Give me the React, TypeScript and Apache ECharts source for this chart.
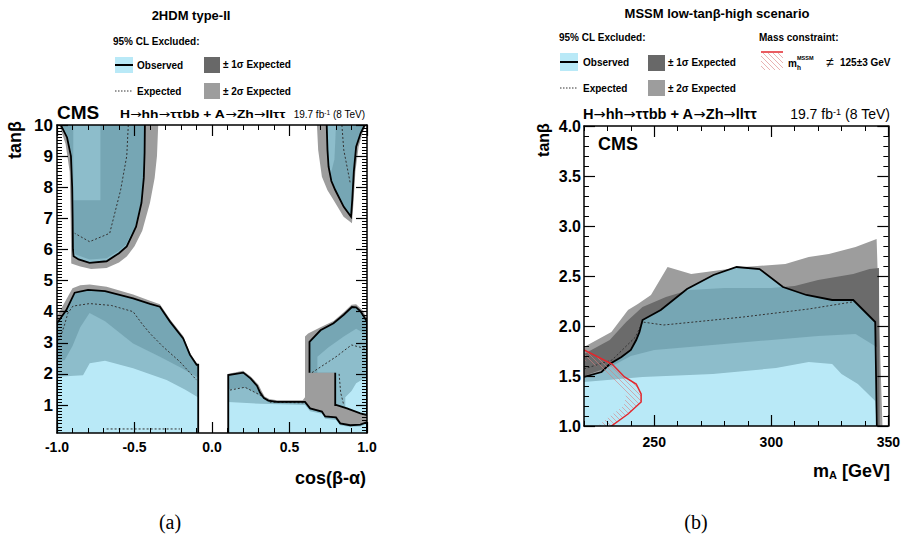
import React, { useEffect, useRef } from 'react';
import * as echarts from 'echarts';

type Pt = [number, number];

// ---------------- Panel (a): 2HDM type-II, x = cos(beta-alpha), y = tan(beta)
const cosTicks = [-1.0, -0.5, 0.0, 0.5, 1.0];
const tanbTicksA = [1, 2, 3, 4, 5, 6, 7, 8, 9, 10];

const obsTL: Pt[] = [[-0.975, 10], [-0.935, 9.6], [-0.91, 9.0], [-0.902, 8.0], [-0.899, 7.0], [-0.897, 6.0], [-0.893, 5.78], [-0.86, 5.68], [-0.79, 5.57], [-0.68, 5.62], [-0.6, 5.88], [-0.55, 6.1], [-0.49, 6.73], [-0.455, 7.5], [-0.44, 8.3], [-0.435, 9.1], [-0.433, 10]];
const obsTR: Pt[] = [[0.74, 10], [0.745, 9.2], [0.752, 8.66], [0.77, 8.2], [0.795, 7.91], [0.85, 7.37], [0.897, 7.05], [0.905, 7.6], [0.915, 8.5], [0.93, 9.3], [0.96, 9.75], [0.985, 10]];
const obsBL: Pt[] = [[-1, 0.1], [-1, 3.63], [-0.94, 4.05], [-0.886, 4.61], [-0.8, 4.7], [-0.69, 4.66], [-0.509, 4.43], [-0.4, 4.25], [-0.336, 4.16], [-0.271, 3.68], [-0.186, 3.14], [-0.142, 2.61], [-0.099, 2.29], [-0.089, 2.29], [-0.089, 0.1]];
const obsBR1: Pt[] = [[0.105, 0.1], [0.105, 1.96], [0.202, 2.04], [0.25, 1.85], [0.29, 1.62], [0.31, 1.4], [0.335, 1.22], [0.364, 1.14], [0.418, 1.1], [0.6, 1.1], [0.633, 0.89], [0.709, 0.79], [0.73, 0.63], [0.8, 0.6], [0.827, 0.41], [0.892, 0.35], [0.957, 0.37], [1.0, 0.45], [1.0, 0.1]];
const obsBR2: Pt[] = [[0.629, 2.04], [0.629, 3.03], [0.7, 3.4], [0.784, 3.63], [0.85, 3.9], [0.903, 4.15], [0.93, 4.14], [0.96, 4.0], [1.0, 3.68], [1.0, 0.68], [0.957, 0.73], [0.871, 0.89], [0.8, 1.0], [0.795, 1.0], [0.795, 2.04]];

const plus2TL: Pt[] = [[-0.985, 10], [-0.945, 9.4], [-0.918, 8.5], [-0.912, 7.0], [-0.908, 5.55], [-0.85, 5.45], [-0.78, 5.37], [-0.68, 5.4], [-0.6, 5.58], [-0.55, 5.77], [-0.5, 6.1], [-0.45, 6.6], [-0.4, 7.5], [-0.37, 8.3], [-0.355, 9.0], [-0.347, 10]];
const plus2TR: Pt[] = [[0.677, 10], [0.685, 9.2], [0.709, 8.34], [0.745, 7.9], [0.784, 7.59], [0.849, 7.05], [0.903, 6.84], [0.913, 7.5], [0.925, 8.5], [0.946, 9.3], [0.975, 9.8], [0.995, 10]];
const plus2BL: Pt[] = [[-1, 0.1], [-1, 3.85], [-0.95, 4.3], [-0.9, 4.75], [-0.85, 4.85], [-0.789, 4.87], [-0.68, 4.8], [-0.509, 4.55], [-0.4, 4.35], [-0.336, 4.24], [-0.27, 3.75], [-0.186, 3.22], [-0.142, 2.68], [-0.099, 2.34], [-0.085, 2.34], [-0.085, 0.1]];
const plus2BR: Pt[] = [[0.1, 0.1], [0.1, 2.0], [0.2, 2.1], [0.25, 1.92], [0.3, 1.65], [0.32, 1.45], [0.34, 1.27], [0.37, 1.19], [0.42, 1.15], [0.585, 1.15], [0.6, 1.25], [0.6, 3.2], [0.62, 3.3], [0.7, 3.5], [0.784, 3.7], [0.85, 3.98], [0.9, 4.22], [0.93, 4.24], [0.97, 4.05], [1.0, 3.8], [1.0, 0.1]];

const plus1TL: Pt[] = [[-0.965, 10], [-0.928, 9.6], [-0.903, 9.0], [-0.896, 8.0], [-0.894, 7.0], [-0.893, 6.0], [-0.88, 5.84], [-0.79, 5.68], [-0.68, 5.72], [-0.6, 5.96], [-0.555, 6.16], [-0.495, 6.76], [-0.46, 7.5], [-0.445, 8.3], [-0.44, 9.1], [-0.438, 10]];

const minus1TL: Pt[] = [[-0.895, 10], [-0.895, 7.58], [-0.72, 7.58], [-0.72, 10]];
const minus1TR: Pt[] = [[0.745, 10], [0.748, 9.0], [0.765, 8.4], [0.79, 8.9], [0.8, 10]];
const minus1BL: Pt[] = [[-1, 0.1], [-1, 2.38], [-0.95, 2.45], [-0.9, 2.9], [-0.85, 3.5], [-0.79, 3.96], [-0.69, 3.69], [-0.509, 2.98], [-0.336, 2.55], [-0.2, 2.2], [-0.099, 1.91], [-0.09, 1.9], [-0.09, 0.1]];
const minus1BR1: Pt[] = [[0.105, 0.1], [0.105, 1.5], [0.2, 1.57], [0.26, 1.45], [0.31, 1.3], [0.36, 1.1], [0.4, 1.06], [0.6, 1.05], [0.633, 0.85], [0.709, 0.76], [0.73, 0.6], [0.8, 0.56], [0.827, 0.38], [0.892, 0.32], [0.957, 0.34], [1.0, 0.42], [1.0, 0.1]];
const minus1BR2: Pt[] = [[0.68, 2.04], [0.68, 2.55], [0.75, 2.85], [0.85, 3.2], [0.93, 3.45], [1.0, 3.25], [1.0, 0.68], [0.957, 0.73], [0.871, 0.89], [0.8, 1.0], [0.8, 2.04]];

const minus2BL: Pt[] = [[-1, 0.1], [-1, 1.91], [-0.832, 1.96], [-0.789, 2.34], [-0.69, 2.42], [-0.509, 2.18], [-0.293, 1.8], [-0.175, 1.5], [-0.099, 1.27], [-0.09, 1.25], [-0.09, 0.1]];
const minus2BR1: Pt[] = [[0.105, 0.1], [0.105, 1.1], [0.31, 1.04], [0.6, 1.0], [0.633, 0.8], [0.709, 0.72], [0.73, 0.56], [0.8, 0.52], [0.827, 0.35], [0.892, 0.29], [0.957, 0.31], [1.0, 0.39], [1.0, 0.1]];
const minus2BR2: Pt[] = [[0.86, 0.91], [0.86, 1.25], [0.9, 1.45], [0.93, 1.7], [0.97, 1.82], [1.0, 1.85], [1.0, 0.68], [0.957, 0.73]];

const expTL: Pt[] = [[-0.54, 10], [-0.55, 9], [-0.59, 7.9], [-0.66, 6.52], [-0.79, 6.25], [-0.886, 6.52]];
const expTR: Pt[] = [[0.838, 10], [0.85, 9.2], [0.892, 8.13]];
const expBL: Pt[] = [[-1, 2.95], [-0.97, 3.3], [-0.95, 3.6], [-0.93, 3.95], [-0.897, 4.18], [-0.789, 4.26], [-0.65, 4.2], [-0.509, 4.0], [-0.45, 3.6], [-0.4, 3.3], [-0.315, 2.87], [-0.207, 2.39], [-0.099, 1.8]];
const expBLlow: Pt[] = [[-0.68, 0.23], [-0.207, 0.23]];
const expBR1: Pt[] = [[0.116, 1.48], [0.213, 1.57], [0.31, 1.32], [0.375, 1.09], [0.59, 1.07]];
const expBR2: Pt[] = [[0.645, 2.04], [0.8, 2.55], [0.9, 2.93], [1.0, 2.8]];
const expBR3: Pt[] = [[0.82, 2.0], [0.83, 1.4], [0.85, 1.0]];

const obs2HDM = [obsTL, obsTR, obsBL, obsBR1, obsBR2];
const plus2s2HDM = [plus2TL, plus2TR, plus2BL, plus2BR];
const plus1s2HDM = [plus1TL, obsTR, obsBL, obsBR1, obsBR2];
const minus1s2HDM = [minus1TL, minus1TR, minus1BL, minus1BR1, minus1BR2];
const minus2s2HDM = [minus2BL, minus2BR1, minus2BR2];
const exp2HDM = [expTL, expTR, expBL, expBLlow, expBR1, expBR2, expBR3];

// ---------------- Panel (b): MSSM low-tanb-high, x = mA [GeV], y = tan(beta)
const mAMajorTicks = [250, 300, 350];
const obsMSSM: Pt[] = [[220, 1.49], [227.5, 1.54], [231, 1.62], [236, 1.69], [240, 1.76], [242.3, 1.86], [243.7, 1.94], [245, 2.06], [252.8, 2.16], [264, 2.37], [275.3, 2.51], [285.2, 2.59], [295, 2.57], [305, 2.39], [315, 2.31], [326, 2.26], [335, 2.26], [344.4, 2.04], [345.1, 1.0]];
const plus2sMSSM: Pt[] = [[220, 1.79], [231.7, 1.94], [238.8, 2.16], [243, 2.22], [248.6, 2.31], [255.7, 2.59], [265.8, 2.52], [288, 2.59], [306, 2.62], [316, 2.69], [324.6, 2.72], [336, 2.79], [345, 2.87], [347.5, 1.0]];
const plus1sMSSM: Pt[] = [[220, 1.72], [231, 1.86], [238, 2.04], [245, 2.19], [255, 2.29], [265, 2.36], [280, 2.38], [300, 2.38], [310, 2.4], [320, 2.46], [335, 2.52], [342, 2.57], [346, 2.58], [346.3, 1.0]];
const expMSSM: Pt[] = [[220, 1.57], [232, 1.66], [242, 1.89], [245, 2.04], [254, 2.01], [267, 2.04], [288, 2.09], [316, 2.17], [334.5, 2.24]];
const minus1sMSSM: Pt[] = [[220, 1.5], [232, 1.6], [240, 1.7], [250, 1.76], [270, 1.8], [300, 1.86], [320, 1.9], [336, 1.92], [345, 1.79], [345.5, 1.0]];
const minus2sMSSM: Pt[] = [[220, 1.44], [245, 1.49], [275, 1.52], [302, 1.58], [316, 1.64], [326, 1.62], [330, 1.52], [337, 1.42], [344.4, 1.25], [345, 1.0]];
const mhMSSM: Pt[] = [[220, 1.76], [226, 1.69], [232, 1.62], [237.3, 1.49], [242.3, 1.42], [244.4, 1.32], [244.4, 1.24], [238.8, 1.12], [231.7, 1.0]];
const mhInner: Pt[] = [[220, 1.66], [226, 1.59], [230, 1.52], [234, 1.42], [238, 1.3], [237, 1.2], [230, 1.08], [226, 1.0]];

const FONT = '"Liberation Sans", Arial, Helvetica, sans-serif';
const ARROW_FONT = '"DejaVu Sans", sans-serif';
const GRAY2 = '#9d9d9d';
const GRAY1 = '#6b6b6b';
const OBS_FILL = 'rgba(128,215,240,0.55)';
const OBS_SWATCH = '#b9e9f7';

function closeDown(curve: Pt[], x0: number, y0: number): Pt[] {
  const last = curve[curve.length - 1];
  return [...curve, [last[0], y0], [x0, y0]];
}

function polySeries(xi: number, yi: number, polys: Pt[][], fill: any, z: number) {
  return {
    type: 'custom', xAxisIndex: xi, yAxisIndex: yi, z, silent: true, clip: true,
    data: polys.map((_, i) => [i]),
    renderItem: (params: any, api: any) => {
      const pts = polys[params.dataIndex].map((p) => api.coord(p));
      return { type: 'polygon', shape: { points: pts }, style: { fill, stroke: null } };
    },
  };
}

function lineSeries(xi: number, yi: number, lines: Pt[][], stroke: string, width: number, dash: number[] | null, z: number) {
  return {
    type: 'custom', xAxisIndex: xi, yAxisIndex: yi, z, silent: true, clip: true,
    data: lines.map((_, i) => [i]),
    renderItem: (params: any, api: any) => {
      const pts = lines[params.dataIndex].map((p) => api.coord(p));
      return { type: 'polyline', shape: { points: pts }, style: { fill: null, stroke, lineWidth: width, lineDash: dash || undefined } };
    },
  };
}

function text(x: number, y: number, t: string, size: number, opts: any = {}) {
  return {
    type: 'text', x, y, rotation: opts.rotation || 0, scaleX: opts.scaleX || 1, z: 20,
    style: {
      text: t, fill: '#000', fontSize: size, fontWeight: opts.weight || 'bold',
      fontFamily: opts.family || FONT, align: opts.align || 'left', verticalAlign: opts.valign || 'middle',
      rich: opts.rich,
    },
  };
}

function processRich(): string {
  return '{b|H}{a|→}{b|hh}{a|→}{b|ττbb + A}{a|→}{b|Zh}{a|→}{b|llττ}';
}

const App: React.FC = () => {
  const ref = useRef<HTMLDivElement>(null);
  useEffect(() => {
    if (!ref.current) return;
    const chart = echarts.init(ref.current, null, { renderer: 'svg' });

    const cv = document.createElement('canvas');
    cv.width = 5; cv.height = 5;
    const cx = cv.getContext('2d');
    if (cx) {
      cx.strokeStyle = 'rgba(215,125,125,0.65)';
      cx.lineWidth = 0.9;
      cx.beginPath();
      cx.moveTo(-1, -1); cx.lineTo(6, 6);
      cx.moveTo(-1, 4); cx.lineTo(1, 6);
      cx.moveTo(4, -1); cx.lineTo(6, 1);
      cx.stroke();
    }
    const hatch = { image: cv.toDataURL(), repeat: 'repeat' };

    const axisLine = { show: true, onZero: false, lineStyle: { color: '#000', width: 1.5 } };
    const hiddenLine = { show: false, onZero: false };
    const majorTick = (len: number, extra: any = {}) => ({ show: true, inside: true, length: len, lineStyle: { color: '#000', width: 1.2 }, ...extra });
    const noSplit = { show: false };

    const minorA: number[] = [];
    for (let k = 2; k < 100; k++) { if (k % 10 !== 0) minorA.push(+(k / 10).toFixed(1)); }
    const minorB: number[] = [];
    for (let v = 220; v <= 350; v += 10) { if (v % 50 !== 0) minorB.push(v); }

    const labelStyle = { color: '#000', fontWeight: 'bold', fontFamily: FONT };
    const minorTickStyle = { show: true, splitNumber: 5, length: 5, lineStyle: { color: '#000', width: 1 } };

    const xAxis: any[] = [
      { gridIndex: 0, type: 'value', min: -1, max: 1, interval: 0.5, position: 'bottom', z: 10, axisLine, axisTick: majorTick(11), minorTick: minorTickStyle, splitLine: noSplit, minorSplitLine: noSplit, axisLabel: { ...labelStyle, fontSize: 14, margin: 7, formatter: (v: number) => v.toFixed(1), customValues: cosTicks } },
      { gridIndex: 0, type: 'value', min: -1, max: 1, interval: 0.5, position: 'top', z: 10, axisLine, axisTick: majorTick(11), minorTick: minorTickStyle, splitLine: noSplit, minorSplitLine: noSplit, axisLabel: { show: false } },
      { gridIndex: 1, type: 'value', min: 220, max: 350, position: 'bottom', z: 10, axisLine, axisTick: majorTick(11, { customValues: mAMajorTicks }), splitLine: noSplit, axisLabel: { ...labelStyle, fontSize: 14, margin: 9, customValues: mAMajorTicks } },
      { gridIndex: 1, type: 'value', min: 220, max: 350, position: 'bottom', z: 10, axisLine: hiddenLine, axisTick: majorTick(5, { customValues: minorB, lineStyle: { color: '#000', width: 1 } }), splitLine: noSplit, axisLabel: { show: false } },
      { gridIndex: 1, type: 'value', min: 220, max: 350, position: 'top', z: 10, axisLine, axisTick: majorTick(11, { customValues: mAMajorTicks }), splitLine: noSplit, axisLabel: { show: false } },
      { gridIndex: 1, type: 'value', min: 220, max: 350, position: 'top', z: 10, axisLine: hiddenLine, axisTick: majorTick(5, { customValues: minorB, lineStyle: { color: '#000', width: 1 } }), splitLine: noSplit, axisLabel: { show: false } },
    ];
    const yAxis: any[] = [
      { gridIndex: 0, type: 'value', min: 0.1, max: 10, position: 'left', z: 10, axisLine, axisTick: majorTick(11, { customValues: tanbTicksA }), splitLine: noSplit, axisLabel: { ...labelStyle, fontSize: 17, margin: 4, customValues: tanbTicksA } },
      { gridIndex: 0, type: 'value', min: 0.1, max: 10, position: 'left', z: 10, axisLine: hiddenLine, axisTick: majorTick(5, { customValues: minorA, lineStyle: { color: '#000', width: 1 } }), splitLine: noSplit, axisLabel: { show: false } },
      { gridIndex: 0, type: 'value', min: 0.1, max: 10, position: 'right', z: 10, axisLine, axisTick: majorTick(11, { customValues: tanbTicksA }), splitLine: noSplit, axisLabel: { show: false } },
      { gridIndex: 0, type: 'value', min: 0.1, max: 10, position: 'right', z: 10, axisLine: hiddenLine, axisTick: majorTick(5, { customValues: minorA, lineStyle: { color: '#000', width: 1 } }), splitLine: noSplit, axisLabel: { show: false } },
      { gridIndex: 1, type: 'value', min: 1, max: 4, interval: 0.5, position: 'left', z: 10, axisLine, axisTick: majorTick(11), minorTick: minorTickStyle, splitLine: noSplit, minorSplitLine: noSplit, axisLabel: { ...labelStyle, fontSize: 16, margin: 3, formatter: (v: number) => v.toFixed(1) } },
      { gridIndex: 1, type: 'value', min: 1, max: 4, interval: 0.5, position: 'right', z: 10, axisLine, axisTick: majorTick(11), minorTick: minorTickStyle, splitLine: noSplit, minorSplitLine: noSplit, axisLabel: { show: false } },
    ];

    const series: any[] = [
      // panel (a)
      polySeries(0, 0, plus2s2HDM, GRAY2, 1),
      polySeries(0, 0, plus1s2HDM, GRAY1, 2),
      polySeries(0, 0, minus1s2HDM, GRAY2, 3),
      polySeries(0, 0, minus2s2HDM, '#ffffff', 4),
      polySeries(0, 0, obs2HDM, OBS_FILL, 5),
      lineSeries(0, 0, exp2HDM, '#333', 1, [2, 2], 6),
      lineSeries(0, 0, obs2HDM, '#000', 1.8, null, 7),
      // panel (b)
      polySeries(2, 4, [closeDown(plus2sMSSM, 220, 1)], GRAY2, 1),
      polySeries(2, 4, [closeDown(plus1sMSSM, 220, 1)], GRAY1, 2),
      polySeries(2, 4, [closeDown(minus1sMSSM, 220, 1)], GRAY2, 3),
      polySeries(2, 4, [closeDown(minus2sMSSM, 220, 1)], '#ffffff', 4),
      polySeries(2, 4, [closeDown(obsMSSM, 220, 1)], OBS_FILL, 5),
      lineSeries(2, 4, [expMSSM], '#333', 1, [2, 2], 6),
      lineSeries(2, 4, [obsMSSM], '#000', 1.8, null, 7),
      polySeries(2, 4, [[...mhMSSM, ...mhInner.slice().reverse()]], hatch, 8),
      lineSeries(2, 4, [mhMSSM], '#e3262c', 1.5, null, 9),
    ];

    const richA = (size: number, supSize: number) => ({
      b: { fontSize: size, fontWeight: 'bold', fontFamily: FONT, fill: '#000' },
      a: { fontSize: size, fontWeight: 'normal', fontFamily: ARROW_FONT, fill: '#000' },
      n: { fontSize: size, fontWeight: 'normal', fontFamily: FONT, fill: '#000' },
      s: { fontSize: supSize, fontWeight: 'normal', fontFamily: FONT, fill: '#000', verticalAlign: 'top' },
    });

    const graphic: any[] = [
      // ---- panel (a) texts
      text(191, 15, '2HDM type-II', 13, { align: 'center' }),
      text(113, 41, '95% CL Excluded:', 10),
      { type: 'rect', shape: { x: 115, y: 57, width: 18, height: 16 }, style: { fill: OBS_SWATCH } },
      { type: 'line', shape: { x1: 115, y1: 65, x2: 133, y2: 65 }, style: { stroke: '#000', lineWidth: 2 } },
      text(137, 65, 'Observed', 10),
      { type: 'rect', shape: { x: 204, y: 57, width: 16, height: 16 }, style: { fill: '#686868' } },
      text(223, 64, '± 1σ Expected', 10),
      { type: 'line', shape: { x1: 115, y1: 91, x2: 133, y2: 91 }, style: { stroke: '#333', lineWidth: 1, lineDash: [1.5, 1.5] } },
      text(137, 91, 'Expected', 10),
      { type: 'rect', shape: { x: 204, y: 83, width: 16, height: 16 }, style: { fill: GRAY2 } },
      text(223, 91, '± 2σ Expected', 10),
      text(57, 112, 'CMS', 19),
      text(120, 114, processRich(), 11, { rich: richA(11, 7), scaleX: 1.26 }),
      text(365, 114, '{n|19.7 fb}{s|-1}{n| (8 TeV)}', 10, { align: 'right', rich: richA(10, 6.5) }),
      text(15, 140, 'tanβ', 18, { align: 'center', rotation: Math.PI / 2 }),
      text(366, 478, 'cos(β-α)', 18, { align: 'right' }),
      text(170, 522, '(a)', 20, { align: 'center', weight: 'normal', family: '"Liberation Serif", "Times New Roman", serif' }),

      // ---- panel (b) texts
      text(717, 13, 'MSSM low-tanβ-high scenario', 13, { align: 'center' }),
      text(559, 37, '95% CL Excluded:', 10),
      text(759, 37, 'Mass constraint:', 10),
      { type: 'rect', shape: { x: 560, y: 53, width: 18, height: 18 }, style: { fill: OBS_SWATCH } },
      { type: 'line', shape: { x1: 560, y1: 62, x2: 578, y2: 62 }, style: { stroke: '#000', lineWidth: 2 } },
      text(583, 62, 'Observed', 10),
      { type: 'rect', shape: { x: 648, y: 55, width: 17, height: 16 }, style: { fill: '#686868' } },
      text(668, 62, '± 1σ Expected', 10),
      { type: 'rect', shape: { x: 761, y: 53, width: 22, height: 17 }, style: { fill: hatch } },
      { type: 'line', shape: { x1: 761, y1: 52, x2: 783, y2: 52 }, style: { stroke: '#e3262c', lineWidth: 1.5 } },
      text(788, 63, 'm', 10),
      text(797, 58, 'MSSM', 5.5),
      text(797, 67, 'h', 6.5),
      text(830, 62, '≠', 14, { weight: 'normal', align: 'center' }),
      text(840, 62, '125±3 GeV', 10),
      { type: 'line', shape: { x1: 560, y1: 88, x2: 578, y2: 88 }, style: { stroke: '#333', lineWidth: 1, lineDash: [1.5, 1.5] } },
      text(583, 88, 'Expected', 10),
      { type: 'rect', shape: { x: 648, y: 80, width: 17, height: 16 }, style: { fill: GRAY2 } },
      text(668, 88, '± 2σ Expected', 10),
      text(583, 114, processRich(), 14, { rich: richA(14, 9), scaleX: 1.04 }),
      text(890, 114, '{n|19.7 fb}{s|-1}{n| (8 TeV)}', 14, { align: 'right', rich: richA(14, 9) }),
      text(598, 144, 'CMS', 18),
      text(543, 140, 'tanβ', 16, { align: 'center', rotation: Math.PI / 2 }),
      text(890, 471, '{b|m}{x|A}{b| [GeV]}', 18, {
        align: 'right',
        rich: {
          b: { fontSize: 18, fontWeight: 'bold', fontFamily: FONT, fill: '#000' },
          x: { fontSize: 11, fontWeight: 'bold', fontFamily: FONT, fill: '#000', verticalAlign: 'bottom' },
        },
      }),
      text(696, 522, '(b)', 20, { align: 'center', weight: 'normal', family: '"Liberation Serif", "Times New Roman", serif' }),
    ];

    chart.setOption({
      animation: false,
      backgroundColor: '#fff',
      grid: [
        { left: 57, top: 125, width: 310, height: 308 },
        { left: 584, top: 126, width: 306, height: 300 },
      ],
      xAxis,
      yAxis,
      series,
      graphic,
    });
    return () => chart.dispose();
  }, []);
  return <div ref={ref} style={{ position: 'fixed', left: 0, top: 0, width: 903, height: 537 }} />;
};

export default App;
